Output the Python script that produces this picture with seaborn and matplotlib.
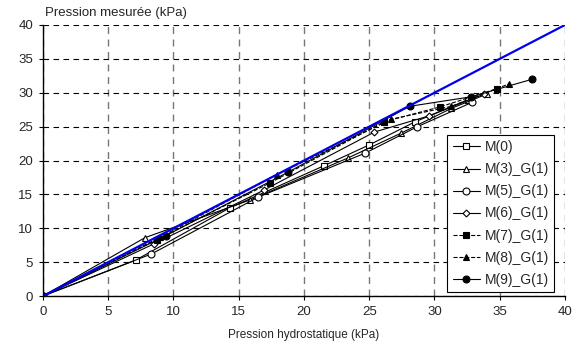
import matplotlib
matplotlib.use('Agg')
import pandas as pd
import matplotlib.pyplot as plt
import seaborn as sns

# Data
m0_x = [0, 7.1, 14.3, 21.5, 25.0, 28.5, 32.6]
m0_y = [0, 5.3, 13.0, 19.2, 22.3, 25.7, 29.0]
m3_x = [0, 7.8, 15.9, 23.4, 27.4, 31.3, 34.0]
m3_y = [0, 8.6, 14.2, 20.4, 24.0, 27.7, 29.8]
m5_x = [0, 8.3, 16.5, 24.7, 28.7, 32.9]
m5_y = [0, 6.2, 14.6, 21.1, 25.0, 28.6]
m6_x = [0, 8.5, 16.9, 25.4, 29.6, 33.8]
m6_y = [0, 7.7, 15.6, 24.2, 26.6, 29.8]
m7_x = [0, 8.7, 17.4, 26.1, 30.4, 34.8]
m7_y = [0, 8.3, 16.7, 25.7, 27.9, 30.6]
m8_x = [0, 9.0, 17.9, 26.7, 31.3, 35.7]
m8_y = [0, 8.7, 17.9, 26.1, 28.0, 31.3]
m9_x = [0, 9.4, 18.8, 28.1, 32.8, 37.5]
m9_y = [0, 8.9, 18.3, 28.0, 29.4, 32.0]
ref_x = [0, 40]
ref_y = [0, 40]

series = [
    ('M(0)', m0_x, m0_y, 's', 'white', '-'),
    ('M(3)_G(1)', m3_x, m3_y, '^', 'white', '-'),
    ('M(5)_G(1)', m5_x, m5_y, 'o', 'white', '-'),
    ('M(6)_G(1)', m6_x, m6_y, 'D', 'white', '-'),
    ('M(7)_G(1)', m7_x, m7_y, 's', 'black', '--'),
    ('M(8)_G(1)', m8_x, m8_y, '^', 'black', '--'),
    ('M(9)_G(1)', m9_x, m9_y, 'o', 'black', '-'),
]

sns.set_style('white')
plt.rcParams['font.family'] = ['Liberation Sans', 'DejaVu Sans']

fig = plt.figure(figsize=(5.78, 3.52), dpi=100)
ax = fig.add_axes([0.0744, 0.159, 0.903, 0.77])

for name, xs, ys, mk, fc, ls in series:
    df = pd.DataFrame({'x': xs, 'y': ys})
    ms = 3.5 if mk == 'D' else 5
    sns.lineplot(data=df, x='x', y='y', ax=ax, sort=False, color='black',
                 linewidth=0.8, linestyle=ls, marker=mk, markersize=ms,
                 markerfacecolor=fc, markeredgecolor='black',
                 markeredgewidth=0.8, label=name)

sns.lineplot(x=ref_x, y=ref_y, ax=ax, color='#0000ee', linewidth=1.6, label='_nolegend_')

ax.set_xlim(0, 40)
ax.set_ylim(0, 40)
ax.set_xticks(range(0, 41, 5))
ax.set_yticks(range(0, 41, 5))
ax.tick_params(labelsize=9.5, length=3, width=0.8, color='black', direction='out', pad=4,
               bottom=True, left=True)
ax.xaxis.grid(True, color='#777777', linestyle=(0, (5, 4)), linewidth=1.0)
ax.yaxis.grid(True, color='black', linestyle=(0, (5, 4)), linewidth=0.8)
ax.set_axisbelow(True)
for s in ['top', 'right']:
    ax.spines[s].set_visible(False)
for s in ['left', 'bottom']:
    ax.spines[s].set_color('black')
    ax.spines[s].set_linewidth(1.0)

ax.set_xlabel('Pression hydrostatique (kPa)', fontsize=8.5, labelpad=8)
ax.set_ylabel('')
fig.text(0.078, 0.962, 'Pression mesurée (kPa)', fontsize=9.5, ha='left', va='center')

leg = ax.legend(loc='upper left', bbox_to_anchor=(0.774, 0.595), fontsize=10,
                frameon=True, fancybox=False, framealpha=1, edgecolor='black',
                handlelength=2.0, handletextpad=0.3, borderpad=0.4,
                labelspacing=0.58, borderaxespad=0)
leg.get_frame().set_linewidth(0.8)

fig.savefig('out.png', dpi=100)
